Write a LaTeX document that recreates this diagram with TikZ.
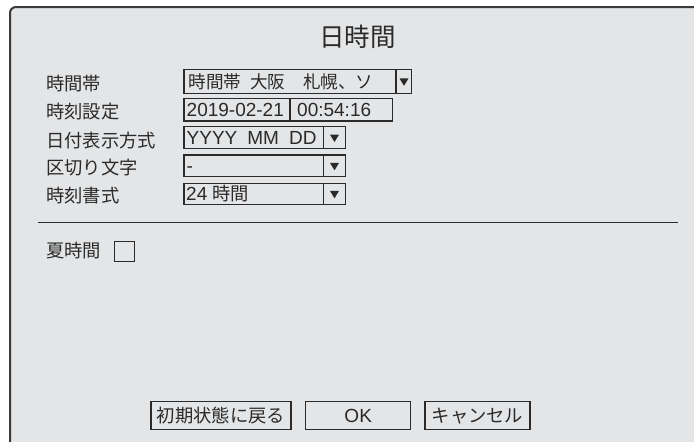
\documentclass[tikz,border=0pt]{standalone}
\usepackage{fontspec}
\setmainfont{Liberation Sans}
\newfontfamily\jpfont{Noto Sans CJK JP}
\definecolor{bgc}{HTML}{E4E5E7}
\definecolor{ink}{HTML}{2A2A2A}
\definecolor{framec}{HTML}{3A3A3A}
\tikzset{
  frameline/.style={draw=framec, line width=2pt},
  fieldbox/.style={draw=ink, line width=1.1pt, rectangle, inner sep=0pt},
  fieldline/.style={draw=ink, line width=1.1pt},
  sepline/.style={draw=ink, line width=1.4pt},
  lbl/.style={anchor=base west, inner sep=0pt, text=ink, font=\fontsize{18.3}{20}\selectfont\jpfont},
  fieldtxt/.style={anchor=base west, inner sep=0pt, text=ink, font=\fontsize{19}{20}\selectfont},
  titletxt/.style={anchor=base, inner sep=0pt, text=ink, font=\fontsize{25.5}{28}\selectfont\jpfont},
  btntxt/.style={anchor=base, inner sep=0pt, text=ink, font=\fontsize{18.3}{20}\selectfont\jpfont},
  ddtri/.pic={\fill[ink] (-4.5,-3.4) -- (4.5,-3.4) -- (0,4) -- cycle;}
}
\begin{document}
\begin{tikzpicture}[x=1pt,y=-1pt]
\useasboundingbox (0,0) rectangle (694,442);
% panel
\fill[bgc] (10,442) -- (10,13) arc[start angle=180,end angle=270,radius=6] -- (694,7) -- (694,442) -- cycle;
\draw[frameline] (10,442) -- (10,13) arc[start angle=180,end angle=270,radius=6] -- (694,7);
% title
\node[titletxt] (title) at (357.5,46.5) {日時間};
% labels
\node[lbl] (l1) at (46,90.3) {時間帯};
\node[lbl] (l2) at (46,118.7) {時刻設定};
\node[lbl] (l3) at (46,147) {日付表示方式};
\node[lbl] (l4) at (46,174.7) {区切り文字};
\node[lbl] (l5) at (46,202) {時刻書式};
% row 1
\node[fieldbox, minimum width=227.7, minimum height=24] (r1) at (297.85,81.3) {};
\coordinate (d1) at (396,0);
\draw[fieldline] (d1 |- r1.north) -- (d1 |- r1.south);
\pic at (404,81.8) {ddtri};
\node[lbl, font=\fontsize{17.6}{20}\selectfont\jpfont] (t1) at (188.5,88.3) {時間帯\hspace{0.5em}大阪\hspace{1em}札幌、ソ};
% row 2
\node[fieldbox, minimum width=208.7, minimum height=22.7] (r2) at (288.35,109.65) {};
\coordinate (d2) at (290,0);
\draw[fieldline] (d2 |- r2.north) -- (d2 |- r2.south);
\node[fieldtxt] (t2a) at (186.5,116.5) {2019-02-21};
\node[fieldtxt] (t2b) at (297,116.5) {00:54:16};
% row 3
\node[fieldbox, minimum width=161.7, minimum height=21.6] (r3) at (264.85,137.5) {};
\coordinate (d3) at (323.3,0);
\draw[fieldline] (d3 |- r3.north) -- (d3 |- r3.south);
\pic at (334.5,138) {ddtri};
\node[fieldtxt] (t3) at (186.5,144.3) {YYYY\hspace{10pt}MM\hspace{10pt}DD};
% row 4
\node[fieldbox, minimum width=161.7, minimum height=21.7] (r4) at (264.85,165.85) {};
\draw[fieldline] (d3 |- r4.north) -- (d3 |- r4.south);
\pic at (334.5,166.3) {ddtri};
\node[fieldtxt] (t4) at (186.5,172.7) {-};
% row 5
\node[fieldbox, minimum width=161.7, minimum height=21] (r5) at (264.85,193.8) {};
\draw[fieldline] (d3 |- r5.north) -- (d3 |- r5.south);
\pic at (334.5,194.3) {ddtri};
\node[fieldtxt] (t5) at (186,200.7) {24 {\jpfont\fontsize{18.3}{20}\selectfont 時間}};
% separator
\coordinate (sepL) at (38,222.7);
\coordinate (sepR) at (677.7,222.7);
\draw[sepline] (sepL) -- (sepR);
% summer time
\node[lbl] (l6) at (46,257.7) {夏時間};
\node[fieldbox, minimum width=20, minimum height=20] (cb) at (124.3,251.7) {};
% buttons
\node[fieldbox, minimum width=140, minimum height=28.3] (b1) at (221,415.2) {};
\node[btntxt] (b1t) at (b1.center) [yshift=-7pt] {初期状態に戻る};
\node[fieldbox, minimum width=105, minimum height=28.3] (b2) at (358.2,415.2) {};
\node[btntxt, font=\fontsize{19}{20}\selectfont] (b2t) at (b2.center) [yshift=-6.8pt] {OK};
\node[fieldbox, minimum width=105, minimum height=28.3] (b3) at (477.5,415.2) {};
\node[btntxt] (b3t) at (b3.center) [yshift=-7pt] {キャンセル};
\end{tikzpicture}
\end{document}
